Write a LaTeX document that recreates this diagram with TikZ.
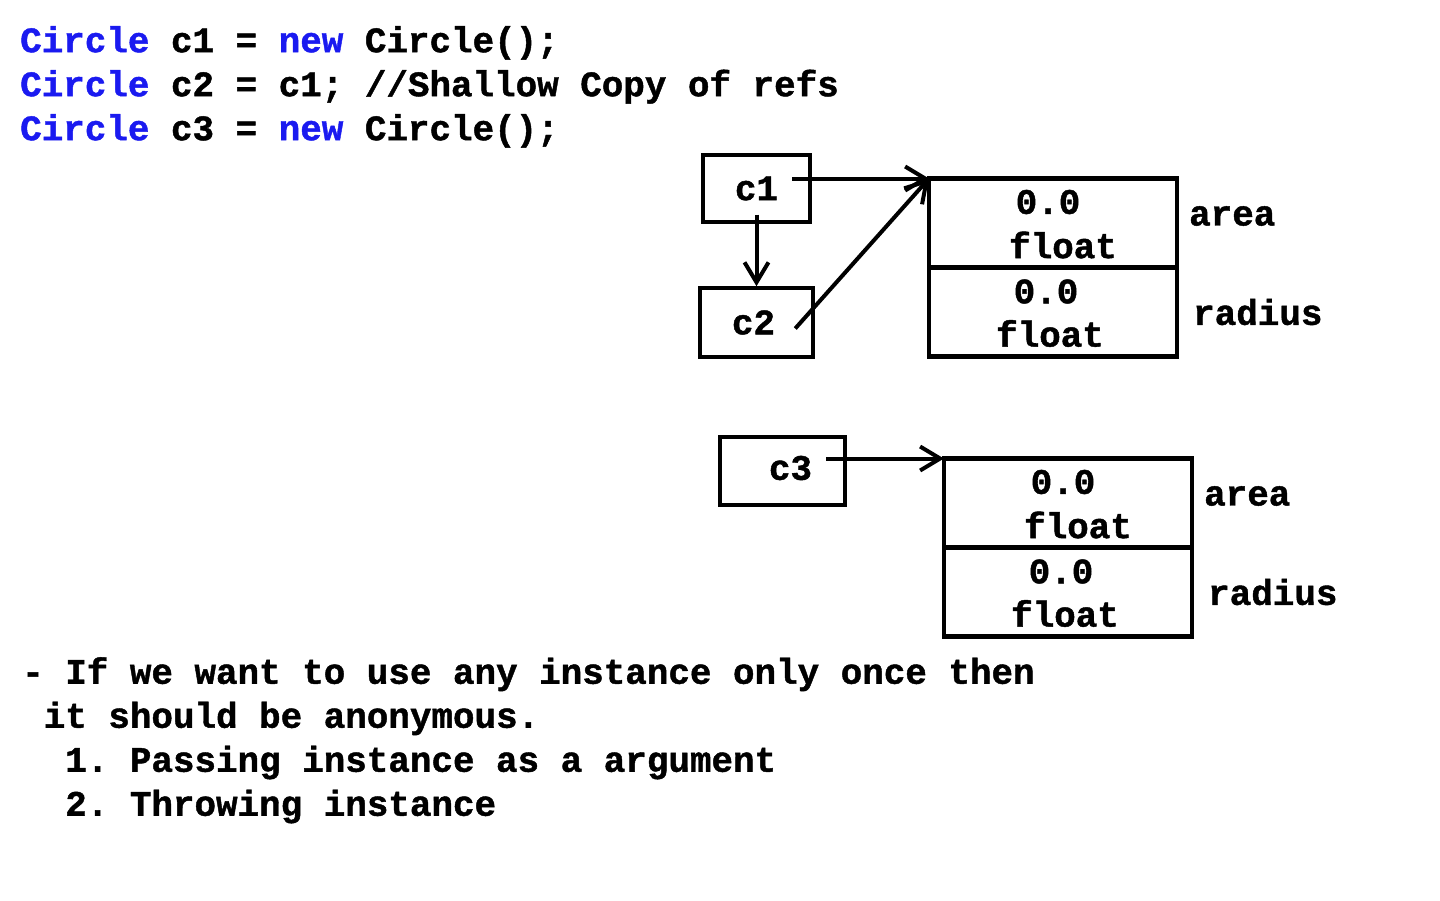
\documentclass[tikz,border=0pt]{standalone}
\usepackage{fontspec}
\setmonofont[BoldFeatures={FakeBold=1.2}]{Liberation Mono}
\usetikzlibrary{positioning, arrows.meta, calc}
\definecolor{ink}{HTML}{000000}
\definecolor{kw}{HTML}{1A1AF0}
\tikzset{
  every node/.style = {font=\ttfamily\bfseries\fontsize{35.9}{44}\selectfont, text=ink},
  mmref/.style  = {draw=ink, line width=3.6pt, minimum width=107pt, minimum height=67pt, inner sep=0pt},
  mmname/.style = {inner sep=14pt},
  mmcell/.style = {draw=ink, line width=4.4pt, minimum width=248pt, minimum height=89pt,
                   inner sep=0pt, outer sep=0pt},
  mmval/.style  = {inner sep=0pt},
  mmfield/.style= {inner sep=0pt, anchor=west},
  mmgo/.style   = {-{Straight Barb[length=20pt,width=24pt]}, draw=ink, line width=4pt},
  mmcode/.style = {anchor=north west, align=left, inner sep=0pt},
}

\begin{document}
\begin{tikzpicture}[x=1pt, y=-1pt]
\useasboundingbox (0,0) rectangle (1440,900);

\node[mmcode] (code) at (20,26)
  {{\color{kw}Circle} c1 = {\color{kw}new} Circle();\\
   {\color{kw}Circle} c2 = c1; //Shallow Copy of refs\\
   {\color{kw}Circle} c3 = {\color{kw}new} Circle();};

% reference variables
\node[mmref] (c1box) at (756.5,188.5) {};
\node[mmname] (c1) at (c1box) {c1};
\node[mmref, minimum width=113pt, minimum height=69pt] (c2box) at (756.5,322.5) {};
\node[mmname] (c2) at ($(c2box)+(-3,0)$) {c2};
\node[mmref, minimum width=125pt, minimum height=68pt] (c3box) at (782.5,471) {};
\node[mmname] (c3) at ($(c3box)+(8,-3)$) {c3};

% the two Circle objects on the heap
\foreach \i/\x/\y in {1/1053/223, 2/1068/503}{
  \node[mmcell] (oa\i) at (\x,\y) {};
  \node[mmcell, below=0pt of oa\i] (ob\i) {};
  \node[mmval] (va\i) at ($(oa\i)+(-5,-21)$) {0.0};
  \node[mmval] (ta\i) at ($(oa\i)+(10,22)$) {float};
  \node[mmval] (vb\i) at ($(ob\i)+(-7,-20.5)$) {0.0};
  \node[mmval] (tb\i) at ($(ob\i)+(-3,21.5)$) {float};
  \node[mmfield] (fa\i) at ($(oa\i.east)+(12,-7)$) {area};
  \node[mmfield] (fb\i) at ($(ob\i.east)+(16,0)$) {radius};
}

\draw[mmgo] (c1.east |- oa1.north west) -- (oa1.north west);
\draw[mmgo] (c1.south) -- (c1.south |- c2box.north);
\draw[mmgo] ($(c2.east)+(6,6)$) -- (oa1.north west);
\draw[mmgo] (c3.east |- oa2.north west) -- (oa2.north west);

\node[mmcode] (note) at (22,657)
  {-~If we want to use any instance only once then\\
   ~it should be anonymous.\\
   ~~1.~Passing instance as a argument\\
   ~~2.~Throwing instance};
\end{tikzpicture}
\end{document}
